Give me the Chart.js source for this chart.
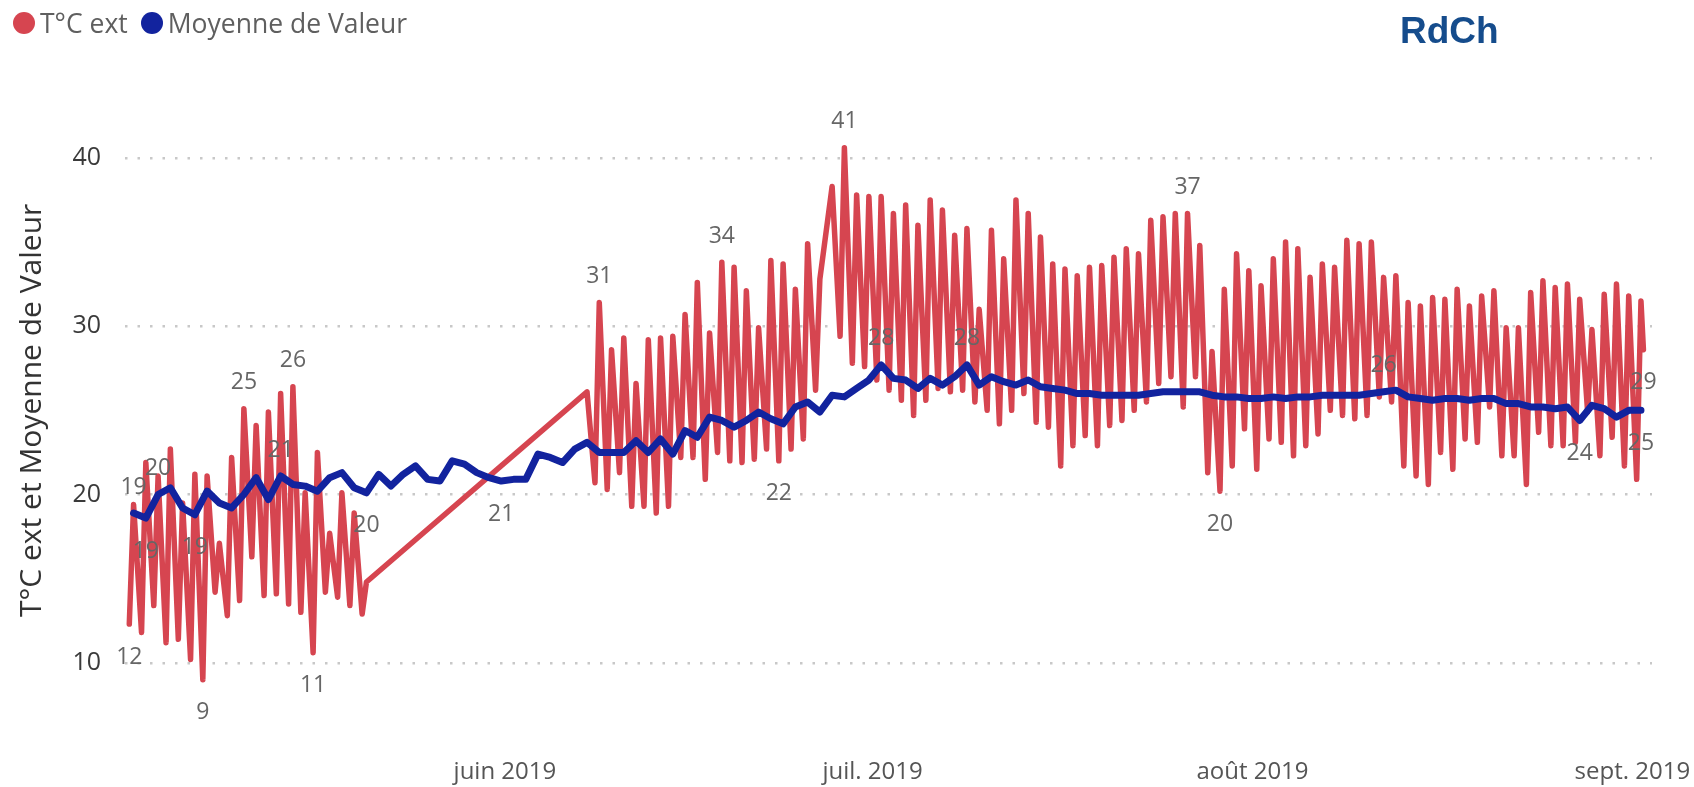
<!DOCTYPE html>
<html lang="fr">
<head>
<meta charset="utf-8">
<title>T°C ext et Moyenne de Valeur</title>
<script src="https://cdn.jsdelivr.net/npm/chart.js@4.4.1/dist/chart.umd.min.js"></script>
<style>
    html, body { margin: 0; padding: 0; background: #fff; }
    #wrap { position: relative; width: 1694px; height: 787px; font-family: "Open Sans", sans-serif; }
    #legend { position: absolute; left: 13px; top: 8px; display: flex; align-items: center; height: 30px; font-size: 26.5px; color: #5f5f5f; white-space: nowrap; }
    #legend .dot { width: 22px; height: 22px; border-radius: 50%; margin-right: 5px; }
    #legend .item { display: flex; align-items: center; margin-right: 13px; }
    #brand { position: absolute; left: 1400px; top: 10px; line-height: 37px; font: bold 37px "Liberation Sans", Arial, sans-serif; color: #154c8c; }
    #chart { position: absolute; left: 0; top: 0; }
</style>
</head>
<body>
<div id="wrap">
    <canvas id="chart" width="1694" height="787"></canvas>
    <div id="legend">
        <span class="item"><span class="dot" style="background:#D64550"></span>T°C ext</span>
        <span class="item"><span class="dot" style="background:#12239E"></span>Moyenne de Valeur</span>
    </div>
    <div id="brand">RdCh</div>
</div>
<script>
// x = days since 1 May 2019
const monthLabels = ["juin 2019", "juil. 2019", "août 2019", "sept. 2019"];
const monthStartDays = [31, 61, 92, 123];
const yTicks = [10, 20, 30, 40];

// T°C ext: one night low and one afternoon high per day, null = no reading
const tempMin = [
    12.3, 11.8, 13.4, 11.2, 11.4, 10.2, 9.0, 14.2, 12.8, 13.7,
    16.3, 14.0, 14.1, 13.5, 13.0, 10.6, 14.2, 13.9, 13.4, 12.9,
    null, null, null, null, null, null, null, null, null, null,
    null, null, null, null, null, null, null, null, 20.7, 20.3,
    21.3, 19.3, 19.3, 18.9, 19.3, 22.2, 22.2, 20.9, 22.5, 22.0,
    21.9, 22.1, 22.7, 22.0, 22.7, 23.3, 26.2, null, 29.4, 27.8,
    27.6, 26.8, 26.2, 25.6, 24.7, 25.6, 26.3, 26.1, 26.2, 25.5,
    25.0, 24.2, 25.0, 26.0, 24.3, 24.0, 21.7, 22.9, 23.5, 22.9,
    24.1, 24.4, 25.0, 25.5, 26.6, 27.0, 25.2, 27.0, 21.3, 20.2,
    21.7, 23.9, 21.5, 23.3, 23.1, 22.3, 22.9, 23.6, 25.0, 24.7,
    24.5, 24.7, 25.8, 25.5, 21.7, 21.1, 20.6, 22.5, 21.5, 23.3,
    23.1, 25.2, 22.3, 22.3, 20.6, 23.7, 22.9, 22.9, 23.1, 24.9,
    22.3, 23.4, 21.7, 20.9
];
const tempMax = [
    19.4, 21.9, 21.1, 22.7, 19.5, 21.2, 21.1, 17.1, 22.2, 25.1,
    24.1, 24.9, 26.0, 26.4, 20.1, 22.5, 17.7, 20.1, 18.9, 14.8,
    null, null, null, null, null, null, null, null, null, null,
    null, null, null, null, null, null, null, 26.1, 31.4, 28.6,
    29.3, 26.6, 29.2, 29.3, 29.4, 30.7, 32.6, 29.6, 33.8, 33.5,
    32.1, 29.9, 33.9, 33.7, 32.2, 34.9, 32.8, 38.3, 40.6, 37.8,
    37.7, 37.7, 36.7, 37.2, 36.0, 37.5, 36.9, 35.4, 35.8, 31.0,
    35.7, 34.0, 37.5, 36.7, 35.3, 33.7, 33.4, 33.0, 33.5, 33.6,
    34.1, 34.6, 34.3, 36.3, 36.5, 36.7, 36.7, 34.8, 28.5, 32.2,
    34.3, 33.3, 32.4, 34.0, 35.0, 34.6, 32.9, 33.7, 33.5, 35.1,
    34.9, 35.0, 32.9, 33.0, 31.4, 31.2, 31.7, 31.6, 32.2, 31.2,
    31.8, 32.1, 29.9, 29.9, 32.0, 32.7, 32.3, 32.5, 31.6, 29.8,
    31.9, 32.5, 31.8, 31.5
];
const tempLastReading = 28.6;

// Moyenne de Valeur, one value per day
const moyenne = [
    18.9, 18.6, 20.0, 20.4, 19.2, 18.8, 20.2, 19.5, 19.2, 20.0,
    21.0, 19.7, 21.1, 20.6, 20.5, 20.2, 21.0, 21.3, 20.4, 20.1,
    21.2, 20.5, 21.2, 21.7, 20.9, 20.8, 22.0, 21.8, 21.3, 21.0,
    20.8, 20.9, 20.9, 22.4, 22.2, 21.9, 22.7, 23.1, 22.5, 22.5,
    22.5, 23.2, 22.5, 23.3, 22.4, 23.8, 23.4, 24.6, 24.4, 24.0,
    24.4, 24.9, 24.5, 24.2, 25.2, 25.5, 24.9, 25.9, 25.8, 26.3,
    26.8, 27.7, 26.9, 26.8, 26.3, 26.9, 26.5, 27.0, 27.7, 26.5,
    27.0, 26.7, 26.5, 26.8, 26.4, 26.3, 26.2, 26.0, 26.0, 25.9,
    25.9, 25.9, 25.9, 26.0, 26.1, 26.1, 26.1, 26.1, 25.9, 25.8,
    25.8, 25.7, 25.7, 25.8, 25.7, 25.8, 25.8, 25.9, 25.9, 25.9,
    25.9, 26.0, 26.1, 26.2, 25.8, 25.7, 25.6, 25.7, 25.7, 25.6,
    25.7, 25.7, 25.4, 25.4, 25.2, 25.2, 25.1, 25.2, 24.4, 25.3,
    25.1, 24.6, 25.0, 25.0
];

// build the point lists
const redPoints = [];
tempMin.forEach((v, i) => {
    redPoints.push({ x: i + 0.35, y: v });
    redPoints.push({ x: i + 0.7, y: tempMax[i] });
});
redPoints.push({ x: tempMin.length - 0.1, y: tempLastReading });
const bluePoints = moyenne.map((v, i) => ({ x: i + 0.7, y: v }));

// which points get a value label
const minAt = i => 2 * i;
const maxAt = i => 2 * i + 1;
const redLabelPts = [
    [minAt(0), 'below'], [minAt(6), 'below'], [maxAt(9), 'above'], [maxAt(13), 'above'],
    [minAt(15), 'below'], [maxAt(38), 'above'], [maxAt(48), 'above'], [minAt(53), 'below'],
    [maxAt(58), 'above'], [maxAt(86), 'above'], [minAt(89), 'below'], [redPoints.length - 1, 'below']
];
const blueLabelPts = [
    [0, 'above'], [1, 'below'], [2, 'above'], [5, 'below'], [12, 'above'], [19, 'below'],
    [30, 'below'], [61, 'above'], [68, 'above'], [102, 'above'], [118, 'below'], [123, 'below']
];

// draws the rounded values above / below chosen points
const pointLabels = {
    id: 'pointLabels',
    afterDatasetsDraw(chart) {
        const ctx = chart.ctx;
        ctx.save();
        ctx.font = '23px "Open Sans", sans-serif';
        ctx.fillStyle = '#666';
        ctx.textAlign = 'center';
        ctx.textBaseline = 'middle';
        chart.data.datasets.forEach((ds, di) => {
            const meta = chart.getDatasetMeta(di);
            (ds.valueLabels || []).forEach(([idx, side]) => {
                const el = meta.data[idx];
                const v = ds.data[idx].y;
                ctx.fillText(Math.round(v), el.x, el.y + (side === 'above' ? -26 : 33));
            });
        });
        ctx.restore();
    }
};

new Chart(document.getElementById('chart'), {
    type: 'line',
    data: {
        datasets: [{
            label: 'T°C ext',
            data: redPoints,
            valueLabels: redLabelPts,
            borderColor: '#D64550',
            backgroundColor: '#D64550',
            borderWidth: 5.5,
            borderJoinStyle: 'round',
            borderCapStyle: 'round',
            pointRadius: 0,
            spanGaps: true,
            order: 2
        }, {
            label: 'Moyenne de Valeur',
            data: bluePoints,
            valueLabels: blueLabelPts,
            borderColor: '#12239E',
            backgroundColor: '#12239E',
            borderWidth: 7,
            borderJoinStyle: 'round',
            borderCapStyle: 'round',
            pointRadius: 0,
            order: 1
        }]
    },
    options: {
        responsive: false,
        animation: false,
        devicePixelRatio: 1,
        events: [],
        layout: { padding: { top: 73.7, right: 42, bottom: 0, left: 0 } },
        plugins: { legend: { display: false }, tooltip: { enabled: false } },
        scales: {
            x: {
                type: 'linear',
                min: 0,
                max: 124.6,
                grid: { display: false, drawTicks: false },
                border: { display: false },
                afterBuildTicks: s => { s.ticks = monthStartDays.map(v => ({ value: v })); },
                afterFit: s => { s.height = 40; s.paddingLeft = 0; s.paddingRight = 0; },
                ticks: {
                    autoSkip: false,
                    maxRotation: 0,
                    padding: 11,
                    color: '#555',
                    font: { family: '"Open Sans", sans-serif', size: 24 },
                    callback: (v, i) => monthLabels[i]
                }
            },
            y: {
                min: 5,
                max: 45,
                grid: { color: '#c8c8c8', lineWidth: 2.5, drawTicks: false },
                border: { display: false, dash: [2.5, 10] },
                afterBuildTicks: s => { s.ticks = yTicks.map(v => ({ value: v })); },
                afterFit: s => { s.width = 125; s.paddingTop = 0; s.paddingBottom = 0; },
                ticks: {
                    padding: 24,
                    color: '#3a3a3a',
                    font: { family: '"Open Sans", sans-serif', size: 25 }
                },
                title: {
                    display: true,
                    text: 'T°C ext et Moyenne de Valeur',
                    color: '#333',
                    padding: { top: 14, bottom: 0 },
                    font: { family: '"Open Sans", sans-serif', size: 30 }
                }
            }
        }
    },
    plugins: [pointLabels]
});
</script>
</body>
</html>
